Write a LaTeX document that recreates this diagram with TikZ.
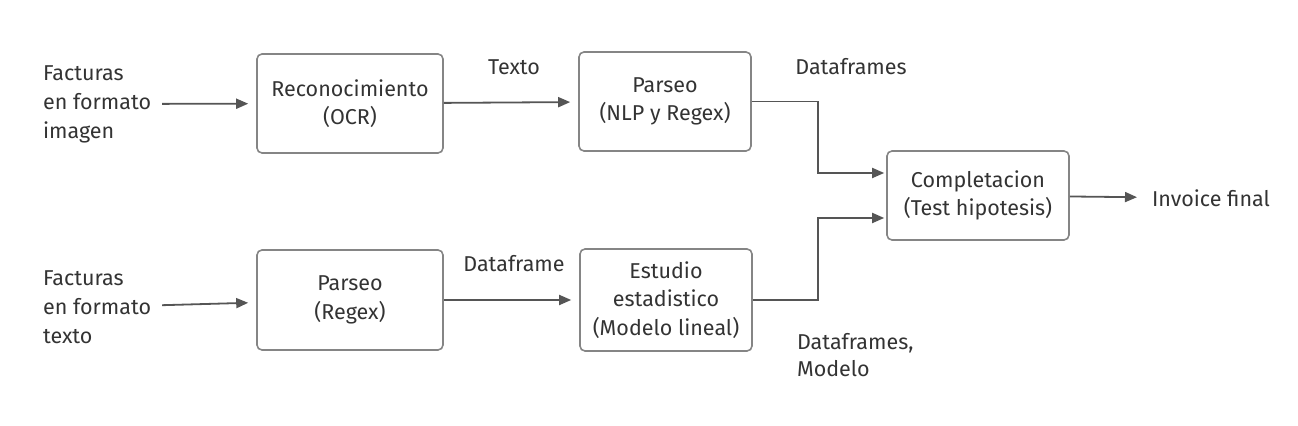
\documentclass[tikz,border=0pt]{standalone}
\usepackage{fontspec}
\setmainfont{Fira Sans}
\usetikzlibrary{arrows.meta}
\definecolor{boxgray}{HTML}{858585}
\definecolor{linegray}{HTML}{555555}
\definecolor{textgray}{HTML}{333333}

\begin{document}
\begin{tikzpicture}[x=0.5pt, y=-0.5pt]
    % Define styles
    \tikzset{
        block/.style={rectangle, draw=boxgray, line width=0.8pt, rounded corners=2.5pt, align=center, text=textgray, font=\fontsize{10.75}{14.3}\selectfont},
        source/.style={anchor=west, align=left, text=textgray, font=\fontsize{10.75}{14.5}\selectfont},
        flowtext/.style={text=textgray, font=\fontsize{10.75}{13.5}\selectfont},
        arrow/.style={-{Triangle[length=6pt,width=5pt]}, draw=linegray, line width=0.9pt, shorten >=4pt}
    }
    \useasboundingbox (0,0) rectangle (1298,426);

    % Nodes
    \node[source] (input_imagen) at (36,104) {Facturas\\en formato\\imagen};
    \node[block, minimum width=93pt, minimum height=49.5pt] (ocr_node) at (350,103.5) {Reconocimiento\\(OCR)};
    \node[block, minimum width=86pt, minimum height=49.5pt] (nlp_node) at (665,101.5) {Parseo\\(NLP y Regex)};
    \node[block, minimum width=91pt, minimum height=44.5pt] (completacion_node) at (978,195.5) {Completacion\\(Test hipotesis)};
    \node[source] (invoice_node) at (1145,198) {Invoice final};

    \node[source] (input_texto) at (36,307) {Facturas\\en formato\\texto};
    \node[block, minimum width=93pt, minimum height=50pt] (regex_node) at (350,300) {Parseo\\(Regex)};
    \node[block, minimum width=86pt, minimum height=51pt] (estudio_node) at (666,300) {Estudio\\estadistico\\(Modelo lineal)};

    % Labels
    \node[flowtext] (texto_label) at (514,67) {Texto};
    \node[flowtext] (dataframes_label) at (851,67) {Dataframes};
    \node[flowtext] (dataframe_label) at (514,264) {Dataframe};
    \node[flowtext, anchor=west, align=left] (modelo_label) at (790,355) {Dataframes,\\Modelo};

    \coordinate (join_top) at (818,173);
    \coordinate (join_bottom) at (818,218);

    % Arrows
    \draw[arrow, shorten <=2pt] (input_imagen) -- (ocr_node);
    \draw[arrow] (ocr_node) -- (nlp_node);
    \draw[arrow, shorten >=1pt] (nlp_node.east) -| (join_top) -- (completacion_node.west |- join_top);
    \draw[arrow] (completacion_node) -- (invoice_node);
    \draw[arrow, shorten <=2pt] (input_texto) -- (regex_node);
    \draw[arrow] (regex_node) -- (estudio_node);
    \draw[arrow, shorten >=1pt] (estudio_node.east) -| (join_bottom) -- (completacion_node.west |- join_bottom);
\end{tikzpicture}
\end{document}
